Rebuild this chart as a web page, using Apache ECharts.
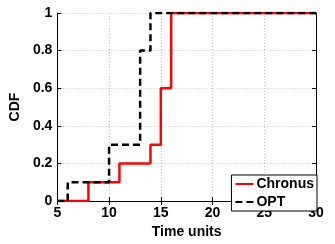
<!DOCTYPE html>
<html>
<head>
<meta charset="utf-8">
<script src="https://cdn.jsdelivr.net/npm/echarts@6/dist/echarts.min.js"></script>
<style>
  html, body { margin: 0; padding: 0; background: #fff; }
  #chart { width: 335px; height: 244px; }
</style>
</head>
<body>
<div id="chart"></div>
<script>
// step points: [time, cdf]
const chronusPts = [[5, 0], [8, 0.1], [11, 0.2], [14, 0.3], [15, 0.6], [16, 1], [30, 1]];
const optPts = [[5, 0], [6, 0.1], [10, 0.3], [13, 0.8], [14, 1], [30, 1]];
const seriesNames = ['Chronus', 'OPT'];

const font = 'Liberation Sans, Arial, sans-serif';
const labelStyle = { color: '#000', fontFamily: font, fontWeight: 'bold', fontSize: 14 };

const chart = echarts.init(document.getElementById('chart'), null, { renderer: 'canvas' });

const hiddenAxis = {
    axisLine: { show: true, lineStyle: { color: '#000', width: 1 } },
    axisTick: { show: true, inside: true, length: 4, lineStyle: { color: '#000' } },
    axisLabel: { show: false },
    splitLine: { show: false }
};

chart.setOption({
    backgroundColor: '#fff',
    animation: false,
    grid: { left: 57, right: 19, top: 13, bottom: 31 },
    legend: {
        data: seriesNames,
        orient: 'vertical',
        right: 18,
        bottom: 33,
        itemWidth: 18,
        itemHeight: 14,
        itemGap: 4,
        padding: [2, 3, 2, 3],
        borderColor: '#000',
        borderWidth: 1,
        backgroundColor: '#fff',
        itemStyle: { opacity: 0 },
        textStyle: Object.assign({}, labelStyle, { padding: [0, 0, 0, -2] })
    },
    xAxis: [
        {
            type: 'value', min: 5, max: 30, interval: 5,
            name: 'Time units', nameLocation: 'middle', nameGap: 23,
            nameTextStyle: labelStyle,
            axisLine: { lineStyle: { color: '#000', width: 1 } },
            axisTick: { inside: true, length: 4, lineStyle: { color: '#000' } },
            axisLabel: Object.assign({ margin: 5 }, labelStyle),
            splitLine: { show: true, lineStyle: { color: '#c4c4c4', type: [1, 2], width: 1 } }
        },
        Object.assign({ type: 'value', min: 5, max: 30, interval: 5, position: 'top' }, hiddenAxis)
    ],
    yAxis: [
        {
            type: 'value', min: 0, max: 1, interval: 0.2,
            name: 'CDF', nameLocation: 'middle', nameGap: 34,
            nameTextStyle: labelStyle,
            axisLine: { show: true, lineStyle: { color: '#000', width: 1 } },
            axisTick: { show: true, inside: true, length: 4, lineStyle: { color: '#000' } },
            axisLabel: Object.assign({ margin: 5, formatter: v => String(+v.toFixed(1)) }, labelStyle),
            splitLine: { show: true, lineStyle: { color: '#c4c4c4', type: [1, 2], width: 1 } }
        },
        Object.assign({ type: 'value', min: 0, max: 1, interval: 0.2, position: 'right' }, hiddenAxis)
    ],
    series: [
        {
            name: seriesNames[0],
            type: 'line',
            step: 'end',
            symbol: 'none',
            data: chronusPts,
            lineStyle: { color: '#ff0000', width: 2.5 },
            itemStyle: { color: '#ff0000' }
        },
        {
            name: seriesNames[1],
            type: 'line',
            step: 'end',
            symbol: 'none',
            data: optPts,
            lineStyle: { color: '#000', width: 2.5, type: [7, 4] },
            itemStyle: { color: '#000' }
        }
    ]
});
</script>
</body>
</html>
